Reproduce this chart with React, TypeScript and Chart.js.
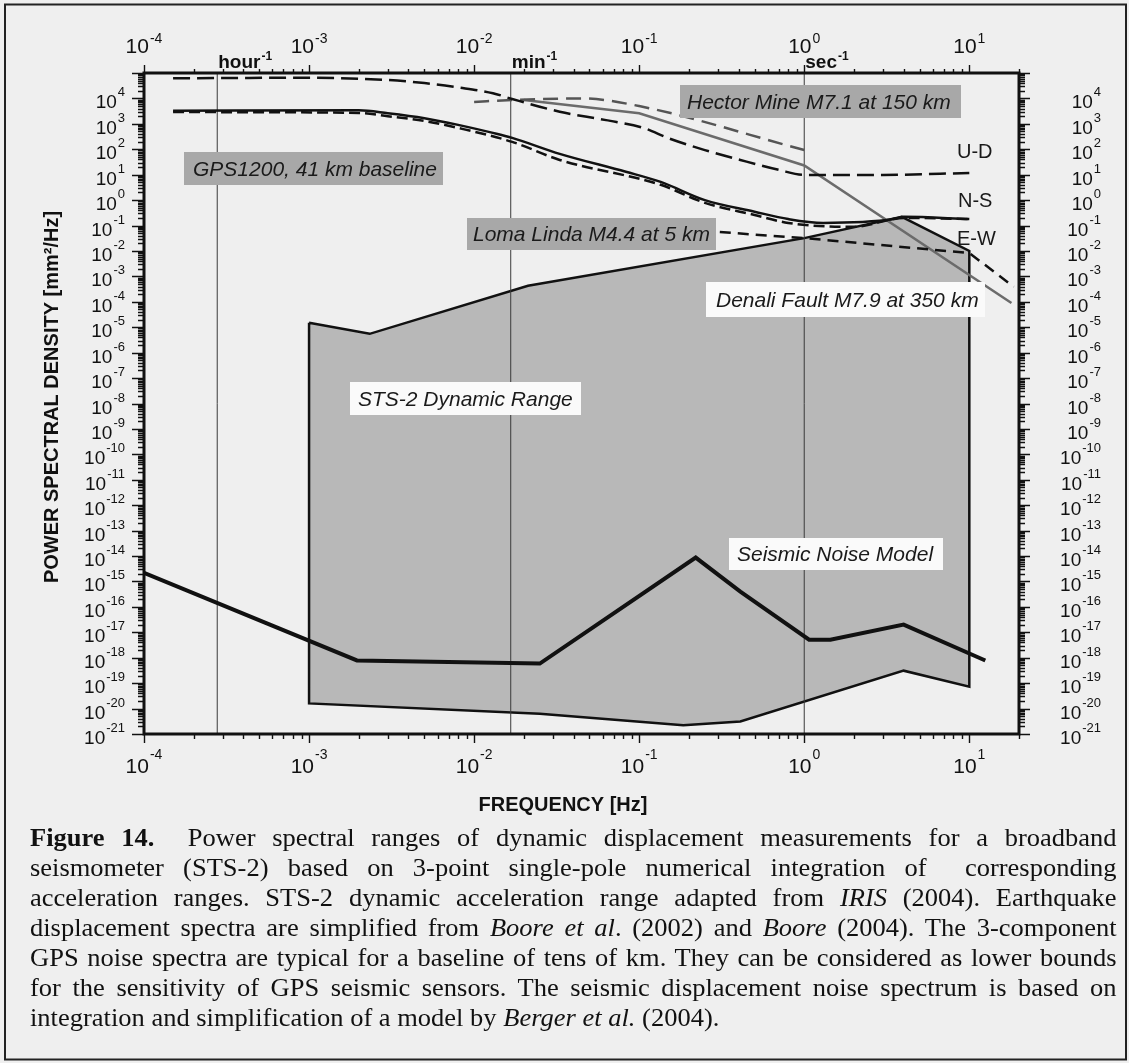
import React, { useEffect, useRef } from 'react';
import { Chart, registerables } from 'chart.js';

Chart.register(...registerables);

const W = 1129;
const H = 1063;

// ---- data (frequency in Hz, PSD in mm^2/Hz) ----
const noiseFreq = [1e-4, 1.95e-3, 0.025, 0.22, 0.41, 1.07, 1.44, 4.0, 12.5];
const noisePsd = [2.2e-15, 7.8e-19, 5.9e-19, 8.7e-15, 4e-16, 5.1e-18, 5.1e-18, 2e-17, 7.8e-19];

const stsUpperFreq = [1e-3, 2.33e-3, 0.0212, 1, 3.9, 10];
const stsUpperPsd = [1.5e-5, 5.5e-6, 4.3e-4, 0.032, 0.22, 0.01];
const stsLowerFreq = [1e-3, 0.025, 0.185, 0.41, 4.0, 10];
const stsLowerPsd = [1.6e-20, 6.3e-21, 2.2e-21, 3.1e-21, 3.1e-19, 7.2e-20];

const gpsUdFreq = [1.5e-4, 1e-3, 3e-3, 5e-3, 8e-3, 0.013, 0.017, 0.033, 0.063, 0.106, 0.15, 0.25, 0.41, 0.7, 1, 3, 10];
const gpsUdPsd = [6.2e4, 6.5e4, 5.3e4, 4e4, 2.7e4, 1.6e4, 9.5e3, 3e3, 1.4e3, 690, 275, 93, 38, 15.5, 9.8, 9.8, 11.7];

const gpsNsFreq = [1.5e-4, 2e-3, 3e-3, 5e-3, 8e-3, 0.013, 0.017, 0.033, 0.083, 0.135, 0.25, 0.5, 0.8, 1.3, 3.5, 4, 10];
const gpsNsPsd = [3.3e3, 3.4e3, 2.6e3, 1.66e3, 910, 440, 280, 66, 13, 5.2, 1.0, 0.35, 0.18, 0.127, 0.18, 0.22, 0.18];

const gpsEwFreq = [1.5e-4, 2e-3, 3e-3, 5e-3, 8e-3, 0.017, 0.033, 0.135, 0.25, 0.5, 0.8, 2, 4, 10];
const gpsEwPsd = [2.9e3, 2.7e3, 2e3, 1.3e3, 690, 195, 38, 4, 0.78, 0.26, 0.126, 0.089, 0.2, 0.18];

const denaliFreq = [0.02, 0.1, 1, 18];
const denaliPsd = [8.7e3, 2.6e3, 23, 9e-5];

const hectorFreq = [0.01, 0.017, 0.045, 0.1, 1];
const hectorPsd = [7.3e3, 8.7e3, 1e4, 5e3, 93];

const lomaFreq = [0.025, 0.3, 1, 10, 18.6];
const lomaPsd = [0.06, 0.056, 0.032, 8.3e-3, 3.9e-4];

const refFreqs = [1 / 3600, 1 / 60, 1];
const refLabels = ['hour', 'min', 'sec'];

const xTickExps = [-4, -3, -2, -1, 0, 1];
const yTickExps = [4, 3, 2, 1, 0, -1, -2, -3, -4, -5, -6, -7, -8, -9, -10, -11, -12, -13, -14, -15, -16, -17, -18, -19, -20, -21];

const X_MIN = 1e-4;
const X_MAX = 20;
const Y_MIN = 1e-21;
const Y_MAX = 1e5;

const SANS = '"Liberation Sans", Arial, Helvetica, sans-serif';

const pts = (xs: number[], ys: number[]) => xs.map((x, i) => ({ x, y: ys[i] }));

function drawPow(
  ctx: CanvasRenderingContext2D,
  exp: string,
  x: number,
  align: 'left' | 'right' | 'center',
  baseSize: number,
  supSize: number,
  baseY: number,
  supY: number,
  bold = false
) {
  const w = bold ? 'bold ' : '';
  const baseFont = `${w}${baseSize}px ${SANS}`;
  const supFont = `${w}${supSize}px ${SANS}`;
  ctx.font = baseFont;
  const wb = ctx.measureText('10').width;
  ctx.font = supFont;
  const ws = ctx.measureText(exp).width;
  const total = wb + 1 + ws;
  const x0 = align === 'left' ? x : align === 'right' ? x - total : x - total / 2;
  ctx.textAlign = 'left';
  ctx.textBaseline = 'alphabetic';
  ctx.font = baseFont;
  ctx.fillText('10', x0, baseY);
  ctx.font = supFont;
  ctx.fillText(exp, x0 + wb + 1, supY);
}

type Box = { text: string; x0: number; x1: number; y0: number; y1: number; tx: number; ty: number; fill: string };
const boxes: Box[] = [
  { text: 'Hector Mine M7.1 at 150 km', x0: 680, x1: 961, y0: 85, y1: 118, tx: 687, ty: 109, fill: '#a8a8a8' },
  { text: 'GPS1200, 41 km baseline', x0: 184, x1: 443, y0: 152, y1: 185, tx: 193, ty: 176, fill: '#a8a8a8' },
  { text: 'Loma Linda M4.4 at 5 km', x0: 467, x1: 716, y0: 218, y1: 250, tx: 473, ty: 241, fill: '#a8a8a8' },
  { text: 'Denali Fault M7.9 at 350 km', x0: 706, x1: 985, y0: 282, y1: 317, tx: 716, ty: 307, fill: '#fafafa' },
  { text: 'STS-2 Dynamic Range', x0: 350, x1: 581, y0: 382, y1: 415, tx: 358, ty: 406, fill: '#fafafa' },
  { text: 'Seismic Noise Model', x0: 729, x1: 943, y0: 538, y1: 570, tx: 737, ty: 561, fill: '#fafafa' },
];

const compLabels = [
  { text: 'U-D', x: 957, y: 158 },
  { text: 'N-S', x: 958, y: 207 },
  { text: 'E-W', x: 957, y: 245 },
];

const decorPlugin = {
  id: 'decor',
  beforeDraw(chart: any) {
    const ctx = chart.ctx as CanvasRenderingContext2D;
    ctx.save();
    ctx.fillStyle = '#efefef';
    ctx.fillRect(0, 0, chart.width, chart.height);
    ctx.restore();
  },
  afterDatasetsDraw(chart: any) {
    const ctx = chart.ctx as CanvasRenderingContext2D;
    ctx.save();
    for (const b of boxes) {
      ctx.fillStyle = b.fill;
      ctx.fillRect(b.x0, b.y0, b.x1 - b.x0, b.y1 - b.y0);
      ctx.fillStyle = '#1a1a1a';
      ctx.font = `italic 21px ${SANS}`;
      ctx.textAlign = 'left';
      ctx.textBaseline = 'alphabetic';
      ctx.fillText(b.text, b.tx, b.ty);
    }
    ctx.font = `20px ${SANS}`;
    ctx.fillStyle = '#1a1a1a';
    for (const l of compLabels) ctx.fillText(l.text, l.x, l.y);
    ctx.restore();
  },
  afterDraw(chart: any) {
    const ctx = chart.ctx as CanvasRenderingContext2D;
    const { left, right, top, bottom } = chart.chartArea;
    const xs = chart.scales.x;
    const ys = chart.scales.y;
    ctx.save();

    // ticks
    ctx.strokeStyle = '#111';
    ctx.lineWidth = 1.4;
    ctx.beginPath();
    for (const e of xTickExps) {
      for (let k = 1; k <= 9; k++) {
        const v = k * Math.pow(10, e);
        if (v < X_MIN * 0.999 || v > X_MAX * 1.001) continue;
        const px = Math.round(xs.getPixelForValue(v)) + 0.5;
        const major = k === 1;
        ctx.moveTo(px, bottom);
        ctx.lineTo(px, bottom + (major ? 9 : 5));
        ctx.moveTo(px, top);
        ctx.lineTo(px, top - (major ? 8 : 4));
      }
    }
    const yDecades = [5, ...yTickExps];
    for (const e of yDecades) {
      for (let k = 1; k <= 9; k++) {
        const v = k * Math.pow(10, e);
        if (v < Y_MIN * 0.999 || v > Y_MAX * 1.001) continue;
        const py = Math.round(ys.getPixelForValue(v)) + 0.5;
        const major = k === 1;
        ctx.moveTo(left, py);
        ctx.lineTo(left - (major ? 12 : 6), py);
        ctx.moveTo(right, py);
        ctx.lineTo(right + (major ? 11 : 6), py);
      }
    }
    ctx.stroke();

    // frame
    ctx.lineWidth = 3;
    ctx.strokeStyle = '#111';
    ctx.strokeRect(left, top, right - left, bottom - top);

    // tick labels
    ctx.fillStyle = '#111';
    for (const e of xTickExps) {
      const px = xs.getPixelForValue(Math.pow(10, e));
      drawPow(ctx, String(e), px, 'center', 21, 14, 773, 759);
      drawPow(ctx, String(e), px, 'center', 21, 14, 53, 43);
    }
    for (const e of yTickExps) {
      const py = ys.getPixelForValue(Math.pow(10, e));
      drawPow(ctx, String(e), 125, 'right', 19, 13, py + 10, py - 2);
      drawPow(ctx, String(e), 1101, 'right', 19, 13, py + 10, py - 2);
    }

    // reference line labels (hour^-1, min^-1, sec^-1)
    refFreqs.forEach((f, i) => {
      const px = xs.getPixelForValue(f);
      ctx.font = `bold 19px ${SANS}`;
      ctx.textAlign = 'left';
      const w = ctx.measureText(refLabels[i]).width;
      ctx.fillText(refLabels[i], px + 1, 68);
      ctx.font = `bold 12px ${SANS}`;
      ctx.fillText('-1', px + 2 + w, 60);
    });

    // axis titles
    ctx.font = `bold 20px ${SANS}`;
    ctx.textAlign = 'center';
    ctx.textBaseline = 'middle';
    ctx.fillText('FREQUENCY [Hz]', 563, 805);
    ctx.save();
    ctx.translate(52, 397);
    ctx.rotate(-Math.PI / 2);
    ctx.fillText('POWER SPECTRAL DENSITY [mm\u00B2/Hz]', 0, 0);
    ctx.restore();

    // outer figure frame
    ctx.lineWidth = 2;
    ctx.strokeStyle = '#222';
    ctx.strokeRect(5, 4.5, 1121, 1055);

    ctx.restore();
  },
};

export default function App() {
  const ref = useRef<HTMLCanvasElement | null>(null);

  useEffect(() => {
    const canvas = ref.current;
    if (!canvas) return;

    const stsPolygon = [
      ...pts(stsUpperFreq, stsUpperPsd),
      ...pts(stsLowerFreq, stsLowerPsd).reverse(),
      { x: stsUpperFreq[0], y: stsUpperPsd[0] },
    ];

    const refLine = (f: number, label: string) => ({
      label,
      data: [
        { x: f, y: Y_MIN },
        { x: f, y: Y_MAX },
      ],
      borderColor: '#3a3a3a',
      borderWidth: 1,
      fill: false,
      order: 8,
    });

    const chart = new Chart(canvas, {
      type: 'line',
      data: {
        datasets: [
          {
            label: 'Seismic Noise Model',
            data: pts(noiseFreq, noisePsd),
            borderColor: '#111',
            borderWidth: 4,
            fill: false,
            order: 0,
          },
          {
            label: 'GPS N-S',
            data: pts(gpsNsFreq, gpsNsPsd),
            borderColor: '#111',
            borderWidth: 2.5,
            cubicInterpolationMode: 'monotone',
            fill: false,
            order: 1,
          },
          {
            label: 'GPS E-W',
            data: pts(gpsEwFreq, gpsEwPsd),
            borderColor: '#111',
            borderWidth: 2.5,
            borderDash: [11, 5],
            cubicInterpolationMode: 'monotone',
            fill: false,
            order: 2,
          },
          {
            label: 'GPS U-D',
            data: pts(gpsUdFreq, gpsUdPsd),
            borderColor: '#111',
            borderWidth: 2.5,
            borderDash: [17, 7],
            cubicInterpolationMode: 'monotone',
            fill: false,
            order: 3,
          },
          {
            label: 'Loma Linda M4.4 at 5 km',
            data: pts(lomaFreq, lomaPsd),
            borderColor: '#111',
            borderWidth: 2.5,
            borderDash: [11, 7],
            fill: false,
            order: 4,
          },
          {
            label: 'Hector Mine M7.1 at 150 km',
            data: pts(hectorFreq, hectorPsd),
            borderColor: '#555',
            borderWidth: 2.5,
            borderDash: [15, 8],
            cubicInterpolationMode: 'monotone',
            fill: false,
            order: 5,
          },
          {
            label: 'Denali Fault M7.9 at 350 km',
            data: pts(denaliFreq, denaliPsd),
            borderColor: '#6b6b6b',
            borderWidth: 2.5,
            fill: false,
            order: 6,
          },
          refLine(refFreqs[0], 'hour'),
          refLine(refFreqs[1], 'min'),
          refLine(refFreqs[2], 'sec'),
          {
            label: 'STS-2 Dynamic Range',
            data: stsPolygon,
            borderColor: '#111',
            borderWidth: 2.5,
            backgroundColor: '#b8b8b8',
            fill: 'shape',
            order: 10,
          },
        ] as any,
      },
      options: {
        animation: false,
        responsive: false,
        devicePixelRatio: 1,
        events: [],
        layout: { padding: { left: 144, right: W - 1019, top: 73, bottom: H - 734 } },
        elements: { point: { radius: 0, hoverRadius: 0 }, line: { tension: 0 } },
        plugins: {
          legend: { display: false },
          tooltip: { enabled: false },
          title: { display: false },
        },
        scales: {
          x: { type: 'logarithmic', min: X_MIN, max: X_MAX, display: false },
          y: { type: 'logarithmic', min: Y_MIN, max: Y_MAX, display: false },
        },
      } as any,
      plugins: [decorPlugin],
    });

    return () => chart.destroy();
  }, []);

  const lineStyle: React.CSSProperties = {
    textAlign: 'justify',
    textAlignLast: 'justify',
    height: 30,
    whiteSpace: 'normal',
  };
  const lastStyle: React.CSSProperties = { textAlign: 'left', height: 30 };

  return (
    <div
      style={{
        position: 'fixed',
        left: 0,
        top: 0,
        width: W,
        height: H,
        background: '#efefef',
        overflow: 'hidden',
      }}
    >
      <canvas ref={ref} width={W} height={H} style={{ position: 'absolute', left: 0, top: 0, width: W, height: H }} />
      <div
        style={{
          position: 'absolute',
          left: 30,
          top: 823,
          width: 1025,
          transform: 'scaleX(1.06)',
          transformOrigin: 'left top',
          fontFamily: '"Liberation Serif", "Times New Roman", serif',
          fontSize: 25,
          lineHeight: '30px',
          color: '#111',
        }}
      >
        <div style={lineStyle}>
          <b>Figure 14.</b>&nbsp; Power spectral ranges of dynamic displacement measurements for a broadband
        </div>
        <div style={lineStyle}>
          seismometer (STS-2) based on 3-point single-pole numerical integration of&nbsp; corresponding
        </div>
        <div style={lineStyle}>
          acceleration ranges. STS-2 dynamic acceleration range adapted from <i>IRIS</i> (2004). Earthquake
        </div>
        <div style={lineStyle}>
          displacement spectra are simplified from <i>Boore et al</i>. (2002) and <i>Boore</i> (2004). The 3-component
        </div>
        <div style={lineStyle}>
          GPS noise spectra are typical for a baseline of tens of km. They can be considered as lower bounds
        </div>
        <div style={lineStyle}>
          for the sensitivity of GPS seismic sensors. The seismic displacement noise spectrum is based on
        </div>
        <div style={lastStyle}>
          integration and simplification of a model by <i>Berger et al.</i> (2004).
        </div>
      </div>
    </div>
  );
}
